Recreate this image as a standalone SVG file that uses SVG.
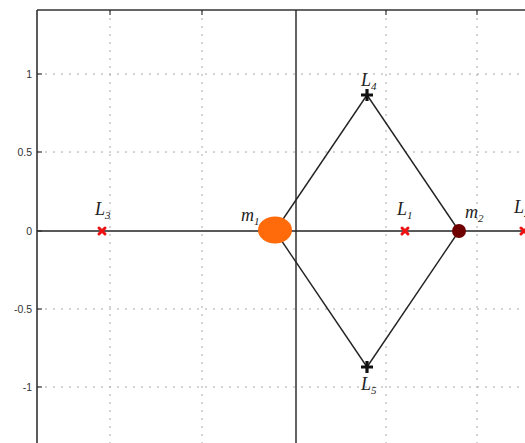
<svg xmlns="http://www.w3.org/2000/svg" width="525" height="443" viewBox="0 0 525 443">
<style>
.grid{stroke:#a8a8a8;stroke-width:1;stroke-dasharray:2,6;fill:none}
.axis{stroke:#333;stroke-width:1.6;fill:none}
.tick{font-family:"Liberation Sans",Arial,sans-serif;font-size:10.5px;fill:#333;text-anchor:end}
.lbl{font-family:"Liberation Serif","Times New Roman",serif;font-style:italic;font-size:18px;fill:#222}
.sub{font-size:11px}
.edge{stroke:#222;stroke-width:1.4;fill:none}
.xm{stroke:#ee1111;stroke-width:3;stroke-linecap:round}
.pm{stroke:#111;stroke-width:3.2}
</style>
<rect width="525" height="443" fill="#fff"/>
<g id="grid">
<line class="grid" x1="37" y1="74" x2="525" y2="74"/>
<line class="grid" x1="37" y1="152" x2="525" y2="152"/>
<line class="grid" x1="37" y1="309" x2="525" y2="309"/>
<line class="grid" x1="37" y1="387" x2="525" y2="387"/>
<line class="grid" x1="110" y1="10" x2="110" y2="443"/>
<line class="grid" x1="202" y1="10" x2="202" y2="443"/>
<line class="grid" x1="386" y1="10" x2="386" y2="443"/>
<line class="grid" x1="477" y1="10" x2="477" y2="443"/>
</g>
<g id="axes">
<line class="axis" x1="37" y1="10" x2="37" y2="443"/>
<line class="axis" x1="37" y1="10" x2="525" y2="10"/>
<line stroke="#222" stroke-width="1.4" x1="296" y1="10" x2="296" y2="443"/>
<line stroke="#222" stroke-width="1.4" x1="37" y1="231" x2="525" y2="231"/>
<g stroke="#333" stroke-width="1.2">
<line x1="37" y1="74" x2="42" y2="74"/><line x1="37" y1="152" x2="42" y2="152"/><line x1="37" y1="231" x2="42" y2="231"/><line x1="37" y1="309" x2="42" y2="309"/><line x1="37" y1="387" x2="42" y2="387"/>
<line x1="110" y1="10" x2="110" y2="15"/><line x1="202" y1="10" x2="202" y2="15"/><line x1="386" y1="10" x2="386" y2="15"/><line x1="477" y1="10" x2="477" y2="15"/>
</g>
<text class="tick" x="32" y="78">1</text>
<text class="tick" x="32" y="156">0.5</text>
<text class="tick" x="32" y="235">0</text>
<text class="tick" x="32" y="313">-0.5</text>
<text class="tick" x="32" y="391">-1</text>
</g>
<g id="connectors">
<line class="edge" x1="275" y1="231" x2="367" y2="95"/>
<line class="edge" x1="367" y1="95" x2="459" y2="231"/>
<line class="edge" x1="459" y1="231" x2="367" y2="367"/>
<line class="edge" x1="367" y1="367" x2="275" y2="231"/>
</g>
<g id="m1">
<ellipse cx="275" cy="230" rx="17" ry="13.5" fill="#ff6a0a"/>
<text class="lbl" x="241" y="221">m<tspan class="sub" dy="4">1</tspan></text>
</g>
<g id="m2">
<circle cx="459" cy="231" r="7" fill="#6e0000"/>
<text class="lbl" x="465" y="218">m<tspan class="sub" dy="4">2</tspan></text>
</g>
<g id="L1">
<path class="xm" d="M402 228 L408 234 M408 228 L402 234"/>
<text class="lbl" x="397" y="215">L<tspan class="sub" dy="4">1</tspan></text>
</g>
<g id="L2">
<path class="xm" d="M521 228 L527 234 M527 228 L521 234"/>
<text class="lbl" x="514" y="213">L<tspan class="sub" dy="4">2</tspan></text>
</g>
<g id="L3">
<path class="xm" d="M99 228 L105 234 M105 228 L99 234"/>
<text class="lbl" x="95" y="215">L<tspan class="sub" dy="4">3</tspan></text>
</g>
<g id="L4">
<path class="pm" d="M361 95 H373 M367 89 V101"/>
<text class="lbl" x="361" y="86">L<tspan class="sub" dy="4">4</tspan></text>
</g>
<g id="L5">
<path class="pm" d="M361 367 H373 M367 361 V373"/>
<text class="lbl" x="361" y="390">L<tspan class="sub" dy="4">5</tspan></text>
</g>
</svg>
